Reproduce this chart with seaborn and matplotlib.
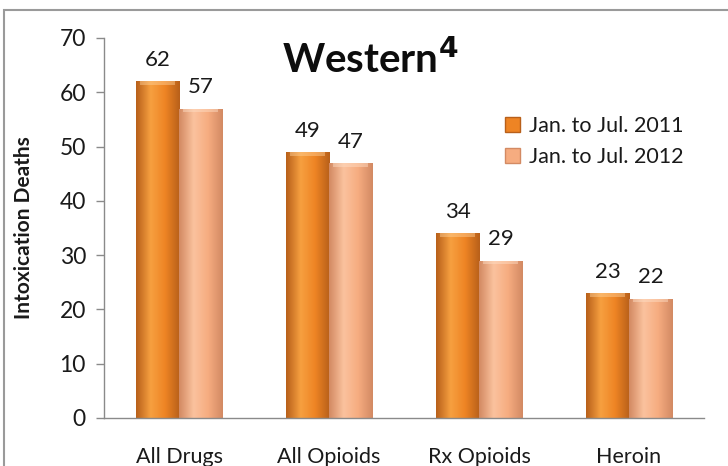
import numpy as np
import pandas as pd
import matplotlib
matplotlib.use("Agg")
import matplotlib.pyplot as plt
from matplotlib.patches import Patch, Rectangle
from matplotlib.colors import LinearSegmentedColormap
import seaborn as sns

# Data
categories = ["All Drugs", "All Opioids", "Rx Opioids", "Heroin"]
periods = ["Jan. to Jul. 2011", "Jan. to Jul. 2012"]
deaths_2011 = [62, 49, 34, 23]
deaths_2012 = [57, 47, 29, 22]
y_ticks = [0, 10, 20, 30, 40, 50, 60, 70]

df = pd.DataFrame({
    "category": categories * 2,
    "period": [periods[0]] * 4 + [periods[1]] * 4,
    "deaths": deaths_2011 + deaths_2012,
})

base_colors = {periods[0]: "#EE8424", periods[1]: "#F6AC80"}
edge_colors = {periods[0]: "#B8601A", periods[1]: "#D38A63"}
light_colors = {periods[0]: "#F7A040", periods[1]: "#FBC29E"}

sns.set_theme(style="white")
plt.rcParams["font.family"] = ["Lato", "DejaVu Sans"]

fig = plt.figure(figsize=(7.28, 4.66), dpi=100)
ax = fig.add_axes([104 / 728, 1 - 418 / 466, 600 / 728, 380 / 466])

sns.barplot(data=df, x="category", y="deaths", hue="period",
            palette=base_colors, width=0.574, gap=0, ax=ax,
            saturation=1, legend=False, linewidth=0, errorbar=None)

# Cylindrical shading on each bar
for container, period in zip(ax.containers, periods):
    cmap = LinearSegmentedColormap.from_list(
        "shade", [edge_colors[period], light_colors[period],
                  base_colors[period], edge_colors[period]])
    grad = np.linspace(0, 1, 64).reshape(1, -1)
    for rect in container:
        x0, w, h = rect.get_x(), rect.get_width(), rect.get_height()
        im = ax.imshow(grad, cmap=cmap, aspect="auto",
                       extent=(x0, x0 + w, 0, h), zorder=2,
                       interpolation="bicubic")
        im.set_clip_path(rect)
        # lighter bevel on top
        ax.add_patch(Rectangle((x0 + w * 0.1, h - 0.7), w * 0.8, 0.7,
                               facecolor="#FFD29A" if period == periods[0] else "#FFE0C8",
                               edgecolor="none", alpha=0.45, zorder=3))
    ax.bar_label(container, labels=[str(int(r.get_height())) for r in container],
                 padding=8, fontsize=16, color="#1a1a1a", zorder=4)

ax.set_xlim(-0.5, 3.5)
ax.set_ylim(0, 70)
ax.set_yticks(y_ticks)
ax.set_xticks([-0.5, 0.5, 1.5, 2.5, 3.5], minor=True)
ax.tick_params(axis="x", which="major", length=0, pad=21, labelsize=15.5, labelcolor="#1a1a1a")
ax.tick_params(axis="x", which="minor", length=7, width=1, color="#8a8a8a", direction="out")
ax.tick_params(axis="y", length=6, width=1, color="#8a8a8a", direction="out",
               labelsize=16.5, labelcolor="#1a1a1a", left=True, pad=7)
ax.set_xlabel("")
ax.set_ylabel("Intoxication Deaths", fontsize=15, fontweight="bold",
              color="#1a1a1a", labelpad=18)
for side in ["top", "right"]:
    ax.spines[side].set_visible(False)
for side in ["left", "bottom"]:
    ax.spines[side].set_color("#8a8a8a")
    ax.spines[side].set_linewidth(1)

fig.text(370 / 728, 1 - 60 / 466, r"Western$^{\mathbf{4}}$", ha="center", va="center",
         fontsize=29, fontweight="bold", color="#0d0d0d")

handles = [Patch(facecolor=base_colors[p], edgecolor=edge_colors[p]) for p in periods]
fig.legend(handles, periods, loc="upper left", bbox_to_anchor=(486 / 728, 1 - 97 / 466),
           frameon=False, fontsize=15.5, handlelength=0.7, handleheight=0.7,
           handletextpad=0.4, labelspacing=0.5, labelcolor="#1a1a1a")

# Frame around the chart area
fig.patches.append(Rectangle((4 / 728, -0.05), 1.0, 1 - 10 / 466 + 0.05,
                             transform=fig.transFigure, fill=False,
                             edgecolor="#9a9a9a", linewidth=1.5))

fig.savefig("out.png", dpi=100)
